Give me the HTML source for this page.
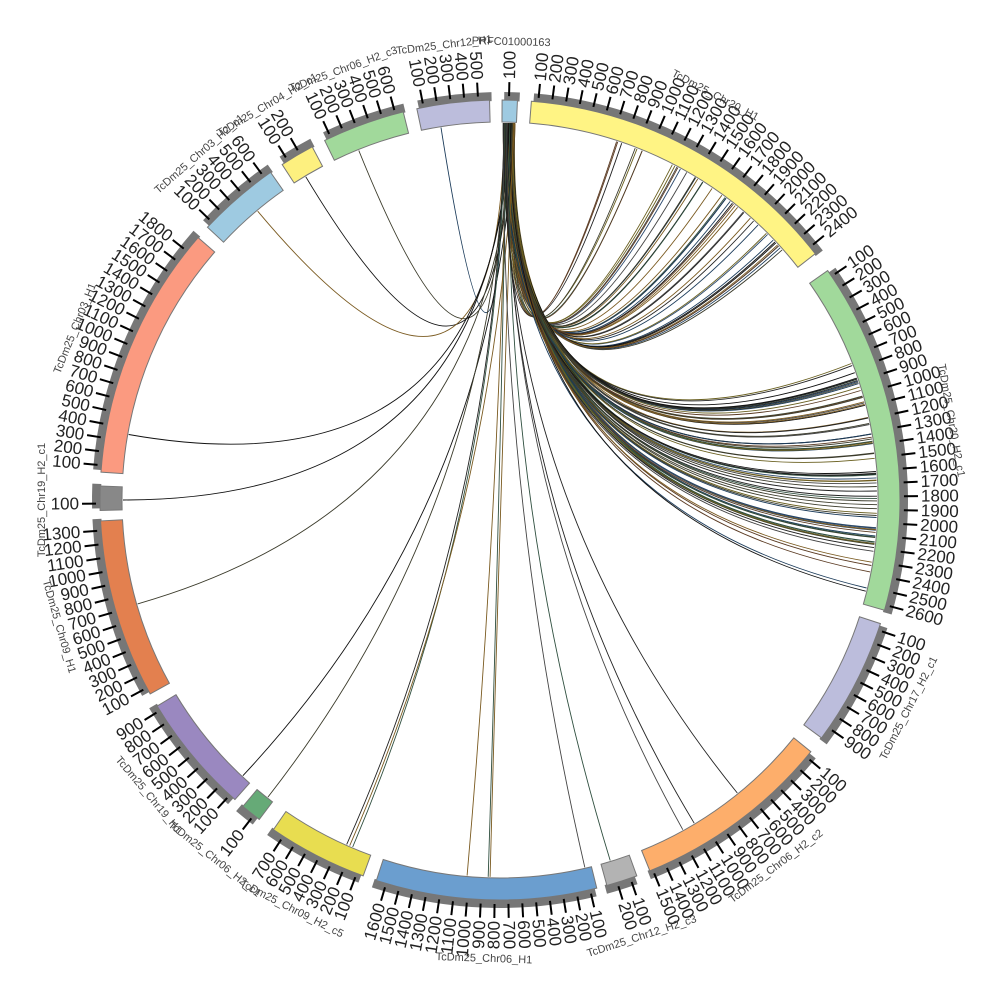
<!DOCTYPE html>
<html><head><meta charset="utf-8"><style>
html,body{margin:0;padding:0;background:#fff;}
svg{display:block;}
.tl text{font-family:"Liberation Sans",sans-serif;font-size:17px;fill:#222;}
.nm{font-family:"Liberation Sans",sans-serif;font-size:11px;fill:#444;}
</style></head><body>
<svg id="s" width="1000" height="1000" viewBox="0 0 1000 1000" xmlns="http://www.w3.org/2000/svg">
<g id="links" fill="none"></g>
<g id="arcs"></g>
<g id="ticks" stroke="#000" stroke-width="2"></g>
<g id="labels">
<g class="tl" data-a="0.3"><text>100</text></g>
<g class="tl" data-a="4.5"><text>100</text><text>200</text><text>300</text><text>400</text><text>500</text><text>600</text><text>700</text><text>800</text><text>900</text><text>1000</text><text>1100</text><text>1200</text><text>1300</text><text>1400</text><text>1500</text><text>1600</text><text>1700</text><text>1800</text><text>1900</text><text>2000</text><text>2100</text><text>2200</text><text>2300</text><text>2400</text></g>
<g class="tl" data-a="55"><text>100</text><text>200</text><text>300</text><text>400</text><text>500</text><text>600</text><text>700</text><text>800</text><text>900</text><text>1000</text><text>1100</text><text>1200</text><text>1300</text><text>1400</text><text>1500</text><text>1600</text><text>1700</text><text>1800</text><text>1900</text><text>2000</text><text>2100</text><text>2200</text><text>2300</text><text>2400</text><text>2500</text><text>2600</text></g>
<g class="tl" data-a="108"><text>100</text><text>200</text><text>300</text><text>400</text><text>500</text><text>600</text><text>700</text><text>800</text><text>900</text></g>
<g class="tl" data-a="129"><text>100</text><text>200</text><text>300</text><text>400</text><text>500</text><text>600</text><text>700</text><text>800</text><text>900</text><text>1000</text><text>1100</text><text>1200</text><text>1300</text><text>1400</text><text>1500</text></g>
<g class="tl" data-a="160"><text>100</text><text>200</text></g>
<g class="tl" data-a="166"><text>100</text><text>200</text><text>300</text><text>400</text><text>500</text><text>600</text><text>700</text><text>800</text><text>900</text><text>1000</text><text>1100</text><text>1200</text><text>1300</text><text>1400</text><text>1500</text><text>1600</text></g>
<g class="tl" data-a="200"><text>100</text><text>200</text><text>300</text><text>400</text><text>500</text><text>600</text><text>700</text></g>
<g class="tl" data-a="217"><text>100</text></g>
<g class="tl" data-a="221.5"><text>100</text><text>200</text><text>300</text><text>400</text><text>500</text><text>600</text><text>700</text><text>800</text><text>900</text></g>
<g class="tl" data-a="241"><text>100</text><text>200</text><text>300</text><text>400</text><text>500</text><text>600</text><text>700</text><text>800</text><text>900</text><text>1000</text><text>1100</text><text>1200</text><text>1300</text></g>
<g class="tl" data-a="268.5"><text>100</text></g>
<g class="tl" data-a="274"><text>100</text><text>200</text><text>300</text><text>400</text><text>500</text><text>600</text><text>700</text><text>800</text><text>900</text><text>1000</text><text>1100</text><text>1200</text><text>1300</text><text>1400</text><text>1500</text><text>1600</text><text>1700</text><text>1800</text></g>
<g class="tl" data-a="313"><text>100</text><text>200</text><text>300</text><text>400</text><text>500</text><text>600</text></g>
<g class="tl" data-a="327"><text>100</text><text>200</text></g>
<g class="tl" data-a="334"><text>100</text><text>200</text><text>300</text><text>400</text><text>500</text><text>600</text></g>
<g class="tl" data-a="348"><text>100</text><text>200</text><text>300</text><text>400</text><text>500</text></g>
</g>
<g id="names">
<text class="nm" data-m="1.4">PRFC01000163</text>
<text class="nm" data-m="28">TcDm25_Chr20_H1</text>
<text class="nm" data-m="80">TcDm25_Chr20_H2_c1</text>
<text class="nm" data-m="117">TcDm25_Chr17_H2_c1</text>
<text class="nm" data-m="143">TcDm25_Chr06_H2_c2</text>
<text class="nm" data-m="162">TcDm25_Chr12_H2_c3</text>
<text class="nm" data-m="182">TcDm25_Chr06_H1</text>
<text class="nm" data-m="207">TcDm25_Chr09_H2_c5</text>
<text class="nm" data-m="218.5">TcDm25_Chr06_H2_c1</text>
<text class="nm" data-m="230">TcDm25_Chr19_H1</text>
<text class="nm" data-m="254">TcDm25_Chr09_H1</text>
<text class="nm" data-m="270">TcDm25_Chr19_H2_c1</text>
<text class="nm" data-m="292">TcDm25_Chr03_H1</text>
<text class="nm" data-m="319">TcDm25_Chr03_H2_c1</text>
<text class="nm" data-m="329.5">TcDm25_Chr04_H2_c1</text>
<text class="nm" data-m="340">TcDm25_Chr06_H2_c3</text>
<text class="nm" data-m="353">TcDm25_Chr12_H1</text>
</g>
</svg>
<script>
(function(){
var NS="http://www.w3.org/2000/svg";
function pt(a,r){var t=(a-90)*Math.PI/180;return [500+r*Math.cos(t),500+r*Math.sin(t)];}
function sector(a1,a2,r1,r2){var p1=pt(a1,r2),p2=pt(a2,r2),p3=pt(a2,r1),p4=pt(a1,r1),l=(a2-a1)>180?1:0;
return "M"+p1[0].toFixed(2)+","+p1[1].toFixed(2)+" A"+r2+","+r2+" 0 "+l+" 1 "+p2[0].toFixed(2)+","+p2[1].toFixed(2)+" L"+p3[0].toFixed(2)+","+p3[1].toFixed(2)+" A"+r1+","+r1+" 0 "+l+" 0 "+p4[0].toFixed(2)+","+p4[1].toFixed(2)+"Z";}
function el(n,at,par){var e=document.createElementNS(NS,n);for(var k in at)e.setAttribute(k,at[k]);par.appendChild(e);return e;}
var segs=[[0.3,2.5,1,"#9ecae1"],[4.5,52,24,"#fff484"],[55,106,26,"#a1d99b"],[108,126.5,9,"#bcbddc"],[129,158,15,"#fdae6b"],[160,164.5,2,"#b3b3b3"],[166,198,16,"#6b9ecf"],[200,214.5,7,"#e8dd50"],[217,220,1,"#66aa77"],[221.5,239,9,"#9a88c0"],[241,267,13,"#e3804f"],[268.5,272,1,"#888888"],[274,311,18,"#fb9a80"],[313,325,6,"#9ecae1"],[327,332,2,"#fdf07f"],[334,346,6,"#a1d99b"],[348,358.5,5,"#bcbddc"]];
var arcs=document.getElementById("arcs"),ticks=document.getElementById("ticks");
segs.forEach(function(s){
 el("path",{d:sector(s[0]+0.3,s[1]+0.3,399,408),fill:"#777"},arcs);
 el("path",{d:sector(s[0],s[1],378,400),fill:s[3],stroke:"#777","stroke-width":1},arcs);
 for(var k=1;k<=s[2];k++){var a=s[0]+(k-0.5)*1.97;var p=pt(a,404),q=pt(a,418);
  el("line",{x1:p[0].toFixed(2),y1:p[1].toFixed(2),x2:q[0].toFixed(2),y2:q[1].toFixed(2)},ticks);}
});
document.querySelectorAll(".tl").forEach(function(g){var a1=parseFloat(g.getAttribute("data-a"));
 g.querySelectorAll("text").forEach(function(t){var v=parseInt(t.textContent);var a=a1+(v/100-0.5)*1.97;
  t.setAttribute("y","500");t.setAttribute("dominant-baseline","central");
  if(a<180){t.setAttribute("x","421");t.setAttribute("text-anchor","start");t.setAttribute("transform","rotate("+(a-90)+",500,500)");t.setAttribute("x","921");}
  else{t.setAttribute("x","79");t.setAttribute("text-anchor","end");t.setAttribute("transform","rotate("+(a+90)+",500,500)");}
 });});
document.querySelectorAll(".nm").forEach(function(t){var m=parseFloat(t.getAttribute("data-m"));t.setAttribute("text-anchor","middle");t.setAttribute("x","500");
 if(m>90&&m<270){t.setAttribute("y",String(500+462));t.setAttribute("transform","rotate("+(m-180)+",500,500)");}
 else{t.setAttribute("y",String(500-455));t.setAttribute("transform","rotate("+m+",500,500)");}});
var seed=7;function rnd(){seed=(seed*16807)%2147483647;return seed/2147483647;}
var links=document.getElementById("links");
var cols=["#222","#2f4f3f","#5a3a22","#2c4a6e","#444","#6a6020","#1b3b5a","#3a3a2a","#111","#7a5a20"];
function link(t){var s=0.5+rnd()*1.8;var p=pt(s,377),q=pt(t,377);
 el("path",{d:"M"+p[0].toFixed(1)+","+p[1].toFixed(1)+" Q500,500 "+q[0].toFixed(1)+","+q[1].toFixed(1),stroke:cols[Math.floor(rnd()*cols.length)],"stroke-width":0.9},links);}
var i;
for(i=0;i<45;i++)link(18+Math.pow(rnd(),0.8)*32);
for(i=0;i<70;i++)link(68+rnd()*30);
[100,101,103.5,104,99.5].forEach(link);
[351,338,329,320,280,270,254,223,218,203,203.5,204,185,181.5,181.8,167,163,151,149,141].forEach(link);
})();
</script>
</body></html>
